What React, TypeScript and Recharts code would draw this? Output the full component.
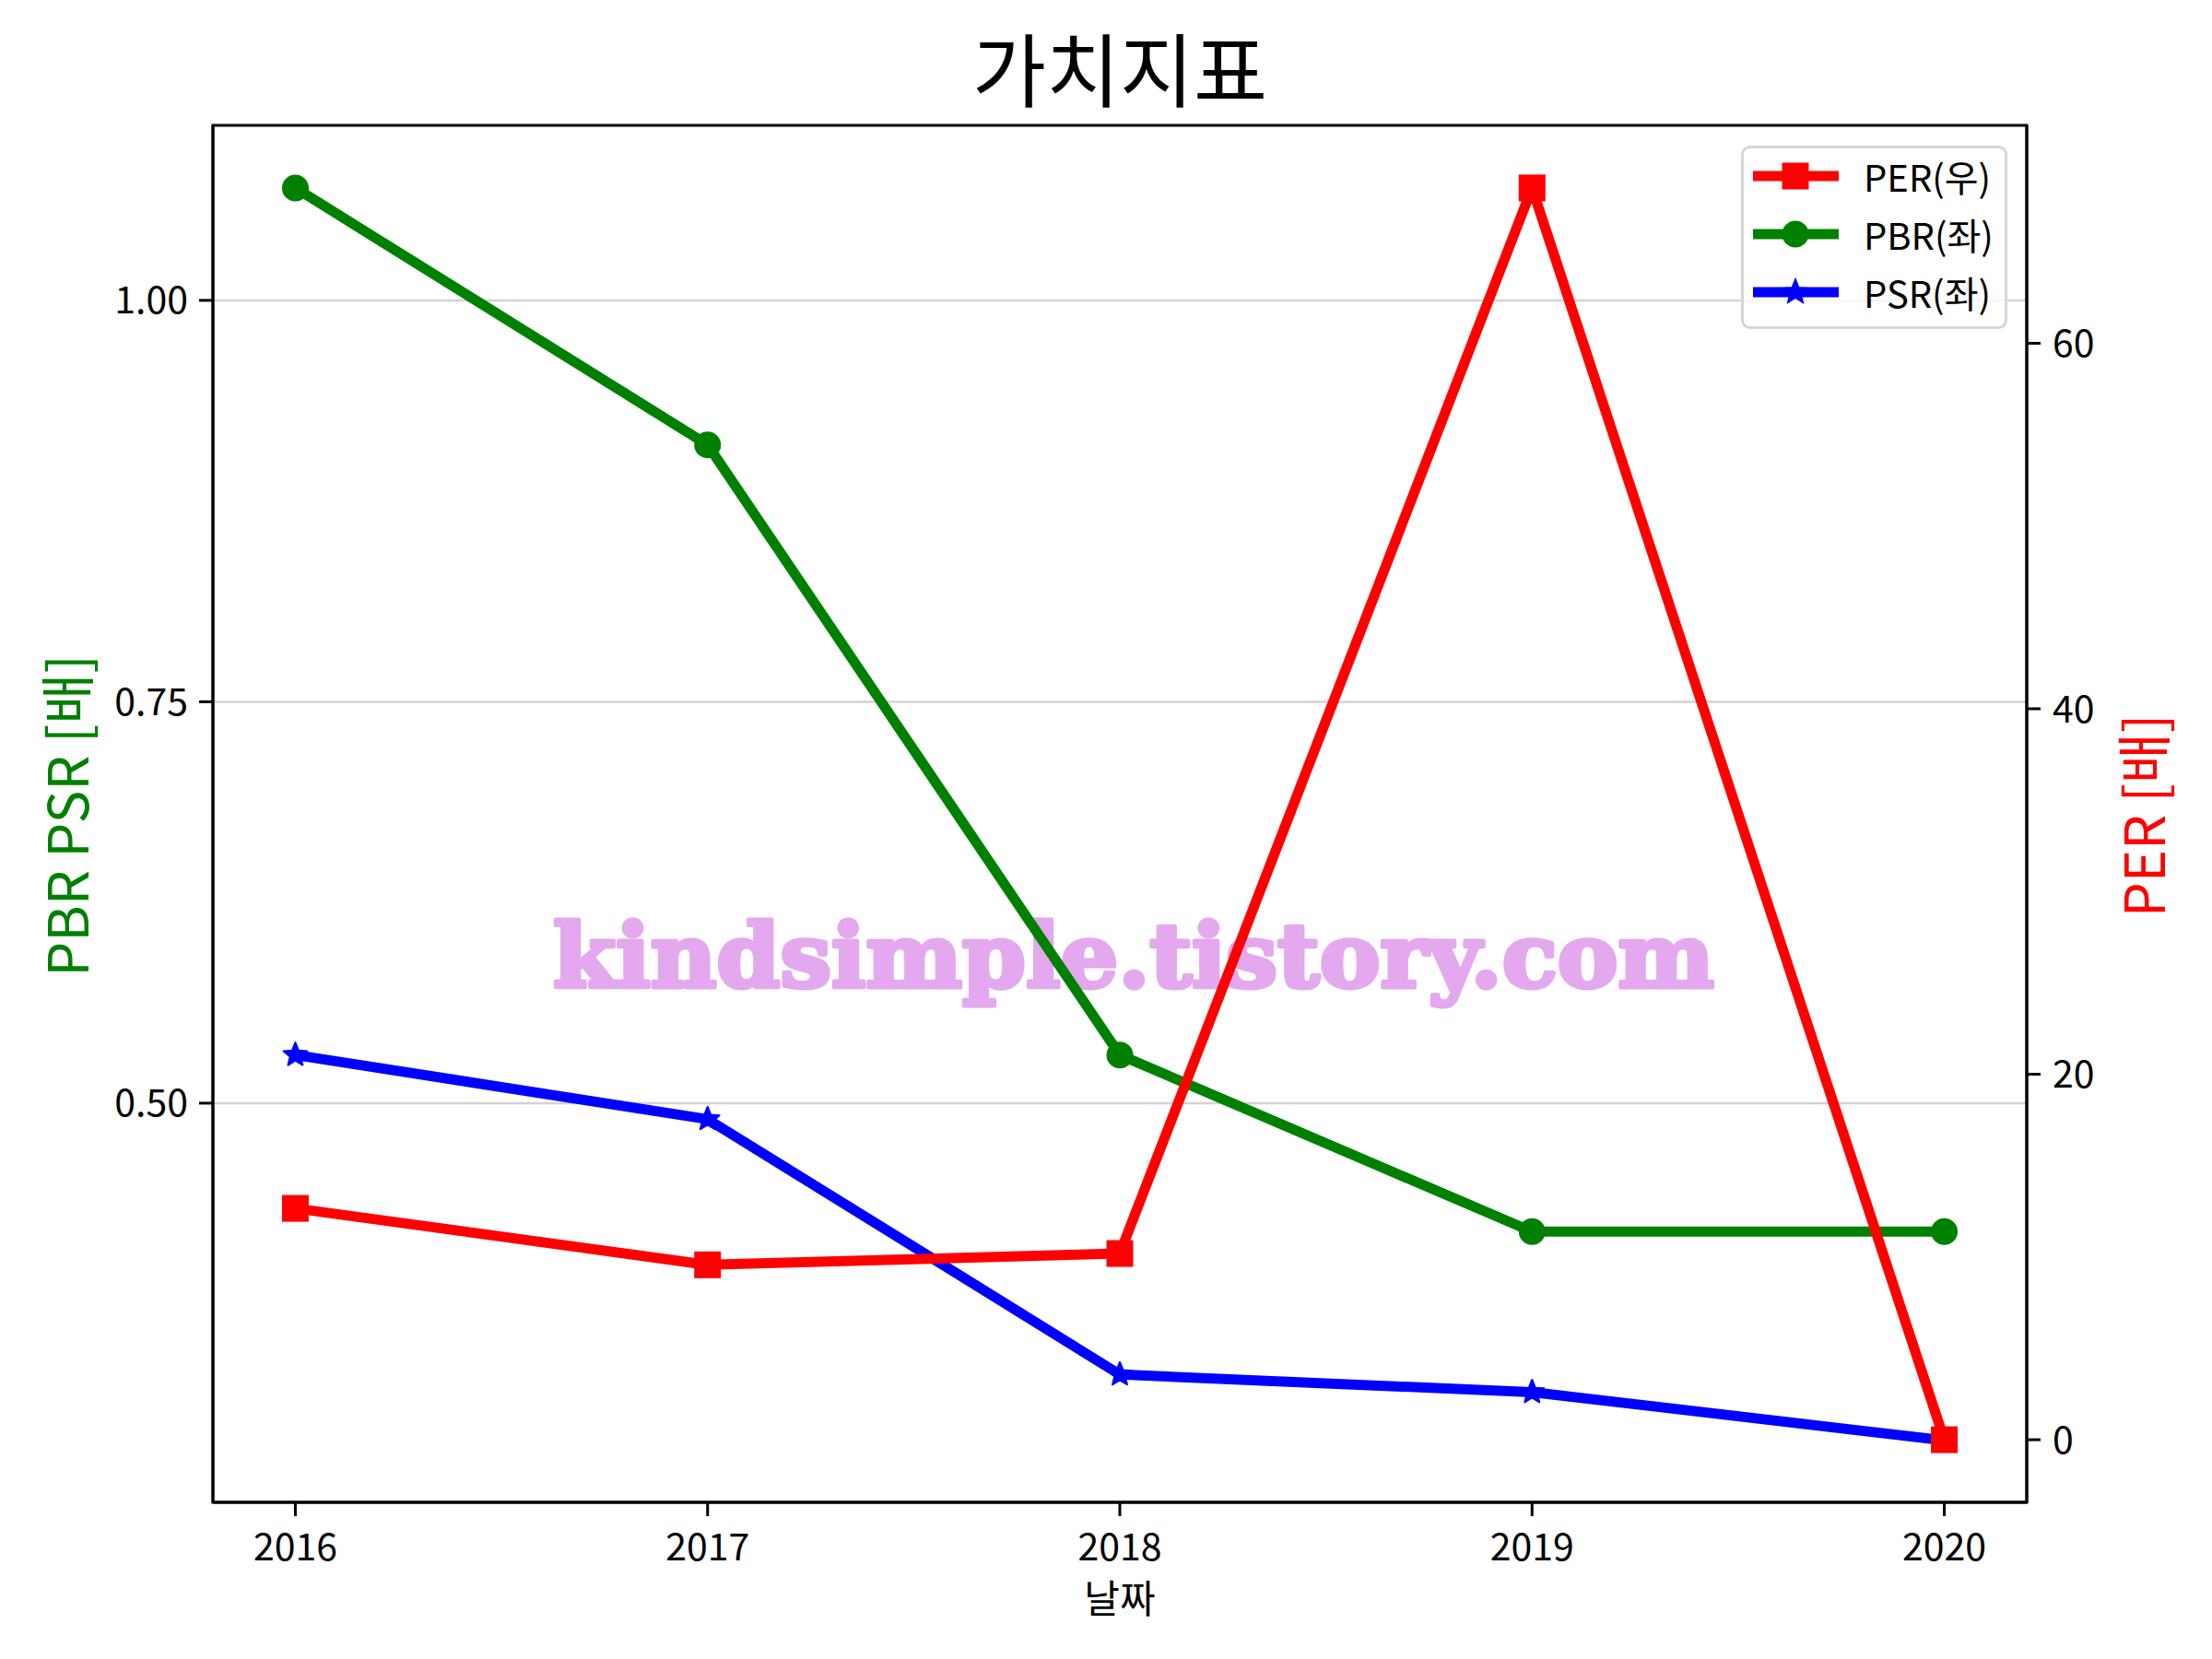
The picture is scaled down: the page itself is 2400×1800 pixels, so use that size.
import React from "react";
import {
  LineChart,
  Line,
  XAxis,
  YAxis,
  CartesianGrid,
  Legend,
  Customized,
} from "recharts";

// values
const YEARS = [2016, 2017, 2018, 2019, 2020];
const PER = [12.66, 9.57, 10.19, 68.5, 0];
const PBR = [1.07, 0.91, 0.53, 0.42, 0.42];
const PSR = [0.53, 0.49, 0.331, 0.32, 0.29];

const LEFT_TICKS = [0.5, 0.75, 1.0];
const RIGHT_TICKS = [0, 20, 40, 60];
const LEGEND_ORDER = ["PER(우)", "PBR(좌)", "PSR(좌)"];

const data = YEARS.map((year, i) => ({
  year,
  per: PER[i],
  pbr: PBR[i],
  psr: PSR[i],
}));

const FONT = '"Noto Sans CJK KR", "Noto Sans", sans-serif';
const W = 2400;
const H = 1800;
const PLOT = { left: 231, right: 2199, top: 136, bottom: 1630 };
const LW = 11;

const RED = "#ff0000";
const GREEN = "#008000";
const BLUE = "#0000ff";

function starPoints(cx: number, cy: number, outer: number, inner: number) {
  const pts: string[] = [];
  for (let i = 0; i < 10; i++) {
    const r = i % 2 === 0 ? outer : inner;
    const a = -Math.PI / 2 + (i * Math.PI) / 5;
    pts.push(`${cx + r * Math.cos(a)},${cy + r * Math.sin(a)}`);
  }
  return pts.join(" ");
}

const squareDot = (props: any) => (
  <rect key={`s${props.index}`} x={props.cx - 14.5} y={props.cy - 14.5} width={29} height={29} fill={RED} />
);
const circleDot = (props: any) => (
  <circle key={`c${props.index}`} cx={props.cx} cy={props.cy} r={14.5} fill={GREEN} />
);
const starDot = (props: any) => (
  <polygon key={`p${props.index}`} points={starPoints(props.cx, props.cy, 13.5, 6)} fill={BLUE} stroke={BLUE} strokeWidth={2} strokeLinejoin="round" />
);

const markerFor = (name: string, cx: number, cy: number) => {
  if (name.startsWith("PER")) return <rect x={cx - 14.5} y={cy - 14.5} width={29} height={29} fill={RED} />;
  if (name.startsWith("PBR")) return <circle cx={cx} cy={cy} r={14.5} fill={GREEN} />;
  return <polygon points={starPoints(cx, cy, 13.5, 6)} fill={BLUE} stroke={BLUE} strokeWidth={2} />;
};

const LegendBox = (props: any) => {
  const items = [...(props.payload || [])].sort(
    (a: any, b: any) => LEGEND_ORDER.indexOf(a.value) - LEGEND_ORDER.indexOf(b.value)
  );
  return (
    <svg width={289} height={199} style={{ display: "block" }}>
      <rect x={1.5} y={1.5} width={286} height={196} rx={8} fill="#ffffff" fillOpacity={0.8} stroke="#d6d6d6" strokeWidth={3} />
      {items.map((it: any, i: number) => {
        const y = 33 + i * 63;
        return (
          <g key={it.value}>
            <line x1={13} x2={106} y1={y} y2={y} stroke={it.color} strokeWidth={LW} />
            {markerFor(it.value, 59, y)}
            <text x={133} y={y} dominantBaseline="central" fontSize={40} fontFamily={FONT} fill="#000">
              {it.value}
            </text>
          </g>
        );
      })}
    </svg>
  );
};

const Watermark = () => (
  <text
    x={1230}
    y={1071}
    textAnchor="middle"
    fontSize={96}
    fontWeight={900}
    fontFamily='"DejaVu Serif", "Liberation Serif", serif'
    fill="#e4a8ee"
    stroke="#e4a8ee"
    strokeWidth={5}
    strokeLinejoin="round"
    textLength={1260}
    lengthAdjust="spacingAndGlyphs"
  >
    kindsimple.tistory.com
  </text>
);

const Decor = () => (
  <g fontFamily={FONT}>
    <rect
      x={PLOT.left}
      y={PLOT.top}
      width={PLOT.right - PLOT.left}
      height={PLOT.bottom - PLOT.top}
      fill="none"
      stroke="#000"
      strokeWidth={3}
    />
    <text x={1215} y={110} textAnchor="middle" fontSize={87} fontWeight={400} fill="#000">
      가치지표
    </text>
    <text x={1215} y={1750} textAnchor="middle" fontSize={42} fill="#000">
      날짜
    </text>
    <text
      x={69}
      y={885}
      textAnchor="middle"
      dominantBaseline="central"
      fontSize={60}
      fill={GREEN}
      transform="rotate(-90 69 885)"
    >
      PBR PSR [배]
    </text>
    <text
      x={2322}
      y={885}
      textAnchor="middle"
      dominantBaseline="central"
      fontSize={60}
      fill={RED}
      transform="rotate(-90 2322 885)"
    >
      PER [배]
    </text>
  </g>
);

const tickStyle = { fontSize: 41, fill: "#000", fontFamily: FONT };

export default function App() {
  return (
    <div style={{ position: "absolute", left: 0, top: 0, width: W, height: H, background: "#fff" }}>
      <LineChart width={W} height={H} data={data} margin={{ top: PLOT.top, right: 0, bottom: 0, left: 0 }}>
        <CartesianGrid yAxisId="left" vertical={false} stroke="#d3d3d3" strokeWidth={2.5} />
        <XAxis
          dataKey="year"
          type="number"
          domain={[2015.8, 2020.2]}
          ticks={YEARS}
          allowDataOverflow
          height={H - PLOT.bottom}
          tick={tickStyle}
          tickSize={15}
          tickMargin={19}
          tickLine={{ stroke: "#000", strokeWidth: 3 }}
          axisLine={{ stroke: "#000", strokeWidth: 3 }}
        />
        <YAxis
          yAxisId="left"
          orientation="left"
          width={PLOT.left}
          domain={[0.2514, 1.109]}
          ticks={LEFT_TICKS}
          allowDataOverflow
          tickFormatter={(v: number) => v.toFixed(2)}
          tick={tickStyle}
          tickSize={15}
          tickMargin={12}
          tickLine={{ stroke: "#000", strokeWidth: 3 }}
          axisLine={{ stroke: "#000", strokeWidth: 3 }}
        />
        <YAxis
          yAxisId="right"
          orientation="right"
          width={W - PLOT.right}
          domain={[-3.425, 71.925]}
          ticks={RIGHT_TICKS}
          allowDataOverflow
          tick={tickStyle}
          tickSize={15}
          tickMargin={13}
          tickLine={{ stroke: "#000", strokeWidth: 3 }}
          axisLine={{ stroke: "#000", strokeWidth: 3 }}
        />
        <Line
          yAxisId="left"
          dataKey="pbr"
          name="PBR(좌)"
          type="linear"
          stroke={GREEN}
          strokeWidth={LW}
          strokeLinejoin="round"
          dot={circleDot}
          activeDot={false}
          isAnimationActive={false}
        />
        <Line
          yAxisId="left"
          dataKey="psr"
          name="PSR(좌)"
          type="linear"
          stroke={BLUE}
          strokeWidth={LW}
          strokeLinejoin="round"
          dot={starDot}
          activeDot={false}
          isAnimationActive={false}
        />
        <Customized component={Watermark} />
        <Line
          yAxisId="right"
          dataKey="per"
          name="PER(우)"
          type="linear"
          stroke={RED}
          strokeWidth={LW}
          strokeLinejoin="round"
          dot={squareDot}
          activeDot={false}
          isAnimationActive={false}
        />
        <Customized component={Decor} />
        <Legend
          layout="horizontal"
          verticalAlign="middle"
          align="center"
          content={LegendBox}
          wrapperStyle={{ position: "absolute", left: 1889, top: 158, width: 289, height: 199 }}
        />
      </LineChart>
    </div>
  );
}
